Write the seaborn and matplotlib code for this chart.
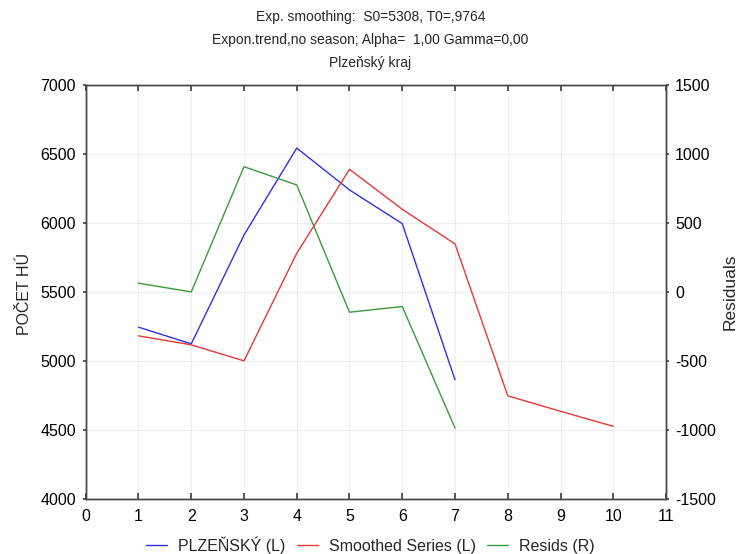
import matplotlib
matplotlib.use("Agg")
import matplotlib.pyplot as plt
import seaborn as sns
import pandas as pd
from matplotlib.lines import Line2D

sns.set_theme(style="white")
plt.rcParams['font.family'] = ['Liberation Sans', 'DejaVu Sans']
plt.rcParams['axes.unicode_minus'] = False

# Data
periods_obs = [1, 2, 3, 4, 5, 6, 7]
plzensky = [5246, 5125, 5913, 6542, 6239, 5995, 4865]
periods_sm = [1, 2, 3, 4, 5, 6, 7, 8, 9, 10]
smoothed = [5183, 5118, 5002, 5781, 6388, 6099, 5848, 4749, 4637, 4528]
resids = [64, 1, 907, 775, -146, -105, -984]

titles = ["Exp. smoothing:  S0=5308, T0=,9764",
          "Expon.trend,no season; Alpha=  1,00 Gamma=0,00",
          "Plzeňský kraj"]
labels = ["PLZEŇSKÝ (L)", "Smoothed Series (L)", "Resids (R)"]
colors = ["#3030e8", "#e83838", "#3a9a3a"]

df_obs = pd.DataFrame({"x": periods_obs, "y": plzensky})
df_sm = pd.DataFrame({"x": periods_sm, "y": smoothed})
df_res = pd.DataFrame({"x": periods_obs, "y": resids})

fig = plt.figure(figsize=(7.41, 5.54), dpi=100)
ax = fig.add_axes([0.1157, 0.0987, 0.7831, 0.7483])
ax2 = ax.twinx()

sns.lineplot(data=df_obs, x="x", y="y", ax=ax, color=colors[0], lw=1)
sns.lineplot(data=df_sm, x="x", y="y", ax=ax, color=colors[1], lw=1)
sns.lineplot(data=df_res, x="x", y="y", ax=ax2, color=colors[2], lw=1)

ax.set_xlim(0, 11)
ax.set_ylim(4000, 7000)
ax2.set_ylim(-1500, 1500)
ax.set_xticks(range(0, 12))
ax.set_yticks(range(4000, 7001, 500))
ax2.set_yticks(range(-1500, 1501, 500))
ax.grid(True, color="#eeeeee", lw=0.8)
ax.set_xlabel("")
ax.set_ylabel("")
ax2.set_ylabel("")
fig.text(25 / 741, 1 - 294 / 554, "POČET HÚ", rotation=90, ha="center",
         va="center", fontsize=11.5)
fig.text(730 / 741, 1 - 292 / 554, "Residuals", rotation=90, ha="center",
         va="center", fontsize=12.5)

ax.tick_params(axis="x", direction="in", length=4, top=True, bottom=True,
               labelsize=11.5, pad=7, colors="#444444", labelcolor="black")
ax.tick_params(axis="y", direction="out", length=2, left=True,
               labelsize=11.5, pad=5, colors="#444444", labelcolor="black")
ax2.tick_params(axis="y", direction="out", length=2, right=True,
                labelsize=11.5, pad=4.5, colors="#444444", labelcolor="black")
for a in (ax, ax2):
    for s in a.spines.values():
        s.set_color("#444444")
        s.set_linewidth(1.0)

for i, t in enumerate(titles):
    fig.text(0.5, 1 - (17 + 23 * i) / 554, t, ha="center", va="center", fontsize=10)

handles = [Line2D([], [], color=c, lw=1) for c in colors]
fig.legend(handles, labels, loc="center", bbox_to_anchor=(0.5, 1 - 545 / 554),
           ncol=3, frameon=False, fontsize=11.5, handlelength=1.3,
           columnspacing=0.7, handletextpad=0.7)

fig.savefig("out.png", dpi=100)
